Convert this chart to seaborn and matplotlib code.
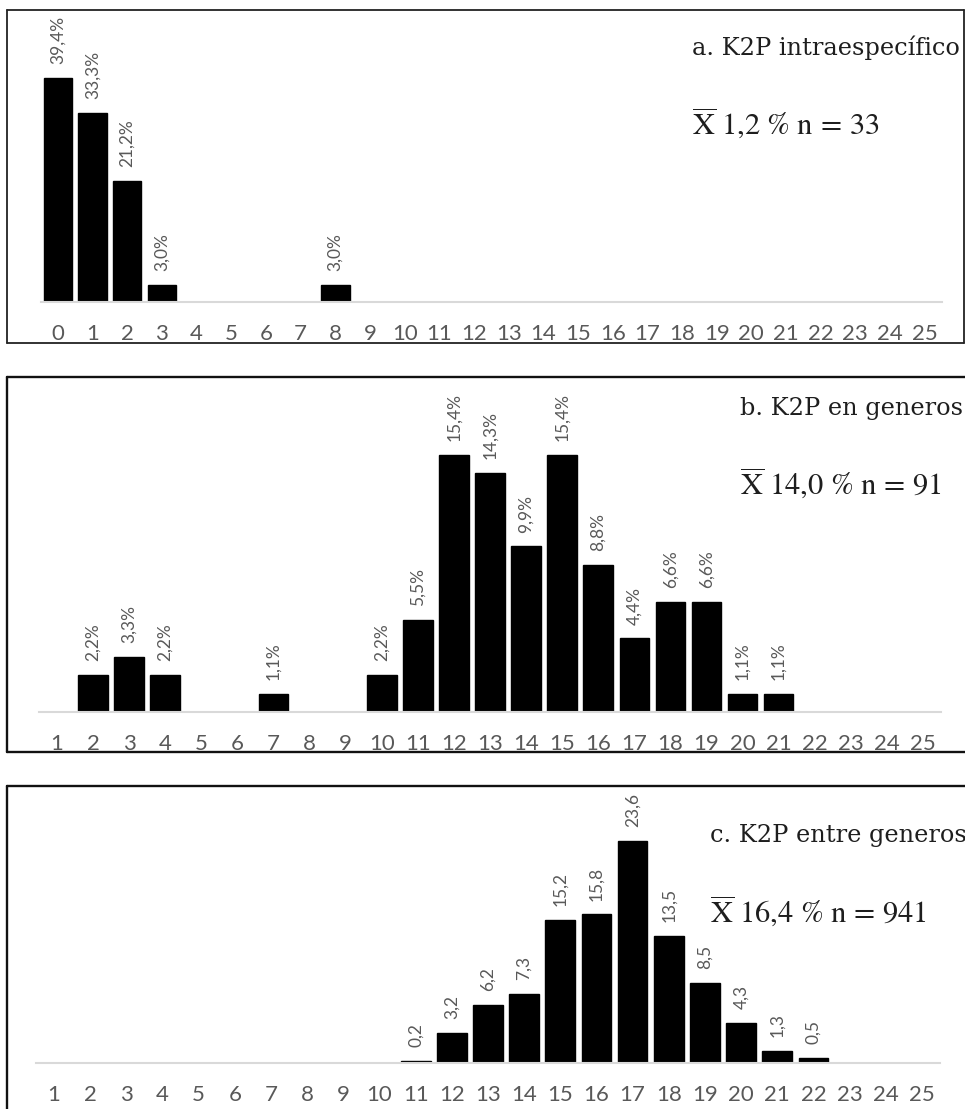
import matplotlib
matplotlib.use("Agg")
import matplotlib.pyplot as plt
import seaborn as sns
import pandas as pd
from matplotlib.lines import Line2D

# ---------------- data ----------------
a_ticks = list(range(0, 26))
a_cats = [0, 1, 2, 3, 8]
a_vals = [39.4, 33.3, 21.2, 3.0, 3.0]
a_title = "a. K2P intraespecífico"
a_mean, a_n = "1,2", "33"

b_ticks = list(range(1, 26))
b_cats = [2, 3, 4, 7, 10, 11, 12, 13, 14, 15, 16, 17, 18, 19, 20, 21]
b_vals = [2.2, 3.3, 2.2, 1.1, 2.2, 5.5, 15.4, 14.3, 9.9, 15.4, 8.8, 4.4, 6.6, 6.6, 1.1, 1.1]
b_title = "b. K2P en generos"
b_mean, b_n = "14,0", "91"

c_ticks = list(range(1, 26))
c_cats = [11, 12, 13, 14, 15, 16, 17, 18, 19, 20, 21, 22]
c_vals = [0.2, 3.2, 6.2, 7.3, 15.2, 15.8, 23.6, 13.5, 8.5, 4.3, 1.3, 0.5]
c_title = "c. K2P entre generos"
c_mean, c_n = "16,4", "941"

# ---------------- style ----------------
sns.set_theme(style="white")
plt.rcParams["font.family"] = ["Lato", "DejaVu Sans"]
plt.rcParams["mathtext.fontset"] = "stix"

W, H = 965, 1109
fig = plt.figure(figsize=(W / 100, H / 100), dpi=100)
fig.patch.set_facecolor("white")


def fx(px):
    return px / W


def fy(py):
    return 1 - py / H


def add_axes(left, right, top, bottom):
    return fig.add_axes([fx(left), fy(bottom), fx(right) - fx(left), (bottom - top) / H])


def draw_panel(ax, ticks, cats, vals, pct, ymax):
    df = pd.DataFrame({"x": [str(c) for c in cats], "y": vals})
    sns.barplot(data=df, x="x", y="y", order=[str(t) for t in ticks], color="black",
                saturation=1, width=0.82, errorbar=None, edgecolor="black",
                linewidth=1.0, ax=ax)
    if pct:
        fmt = lambda v: f"{v:.1f}".replace(".", ",") + "%"
    else:
        fmt = lambda v: f"{v:.1f}".replace(".", ",")
    for cont in ax.containers:
        ax.bar_label(cont, fmt=fmt, rotation=90, padding=10, fontsize=12.5,
                     color="#595959")
    ax.set_xlim(-0.5, len(ticks) - 0.5)
    ax.set_ylim(0, ymax)
    ax.set_xlabel("")
    ax.set_ylabel("")
    ax.set_yticks([])
    for s in ["top", "left", "right"]:
        ax.spines[s].set_visible(False)
    ax.spines["bottom"].set_color("#d9d9d9")
    ax.spines["bottom"].set_linewidth(1.5)
    ax.tick_params(axis="x", length=0, pad=16, labelsize=16, labelcolor="#595959")
    ax.set_facecolor("none")


def titles(x, y_title, y_stat, title, mean, n):
    fig.text(fx(x), fy(y_title), title, family=["DejaVu Serif"], fontsize=17.3,
             color="#1e1e1e", ha="left", va="baseline")
    fig.text(fx(x), fy(y_stat),
             r"$\overline{\mathrm{X}}\ " + mean.replace(",", "{,}") + r"\ \%\ \mathrm{n}\,=\," + n + "$",
             fontsize=22, color="#1e1e1e", ha="left", va="baseline")


# panel a
ax_a = add_axes(40.6, 942, 20, 302)
draw_panel(ax_a, a_ticks, a_cats, a_vals, True, (302 - 20) / 5.69)
titles(692, 55, 135, a_title, a_mean, a_n)

# panel b
ax_b = add_axes(39, 941, 385, 712)
draw_panel(ax_b, b_ticks, b_cats, b_vals, True, (712 - 385) / 16.72)
titles(740, 415, 495, b_title, b_mean, b_n)

# panel c
ax_c = add_axes(36, 940, 795, 1063)
draw_panel(ax_c, c_ticks, c_cats, c_vals, False, (1063 - 795) / 9.4)
titles(710, 842, 923, c_title, c_mean, c_n)

# panel borders
def line(x0, y0, x1, y1, lw=1.3, color="#222222"):
    fig.add_artist(Line2D([fx(x0), fx(x1)], [fy(y0), fy(y1)], lw=lw, color=color,
                          transform=fig.transFigure))

# a: full box
line(7, 10, 964, 10)
line(7, 343, 964, 343)
line(7, 10, 7, 343)
line(964, 10, 964, 343)
# b: open on the right
line(7, 377, 965, 377, lw=1.7, color="#111111")
line(7, 752, 965, 752, lw=1.7, color="#111111")
line(7, 377, 7, 752, lw=1.7, color="#111111")
# c: top and left
line(7, 786, 965, 786, lw=1.7, color="#111111")
line(7, 786, 7, 1109, lw=1.7, color="#111111")

fig.savefig("out.png", dpi=100, facecolor="white")
